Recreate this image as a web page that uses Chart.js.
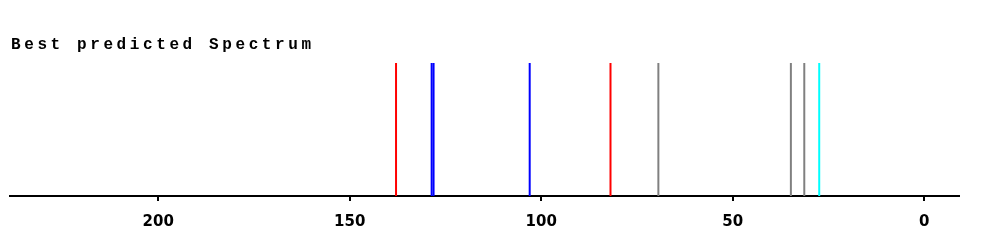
<!DOCTYPE html>
<html>
<head>
<meta charset="utf-8">
<script src="https://cdn.jsdelivr.net/npm/chart.js@4/dist/chart.umd.min.js"></script>
<style>
html,body{margin:0;padding:0;background:#fff;}
#wrap{width:993px;height:249px;}
</style>
</head>
<body>
<div id="wrap"><canvas id="c" width="993" height="249"></canvas></div>
<script>
const TITLE = "Best predicted Spectrum";
const peakShifts = [137.9, 128.6, 128.1, 103.0, 81.9, 69.4, 34.8, 31.3, 27.4];
const peakColors = ["#ff0000", "#0000ff", "#0000ff", "#0000ff", "#ff0000", "#808080", "#808080", "#808080", "#00ffff"];
const peakHeights = [1, 1, 1, 1, 1, 1, 1, 1, 1];
const xTicks = [0, 50, 100, 150, 200];
const xMin = -9.1, xMax = 238.7;

const datasets = peakShifts.map((p, i) => ({
  data: [{x: p, y: 0}, {x: p, y: peakHeights[i]}],
  borderColor: peakColors[i],
  borderWidth: 2,
  pointRadius: 0,
  fill: false,
  tension: 0
}));

const titlePlugin = {
  id: 'spacedTitle',
  afterDraw(chart) {
    const ctx = chart.ctx;
    ctx.save();
    ctx.font = "bold 16px \"Liberation Mono\", \"Courier New\", monospace";
    ctx.letterSpacing = "3.6px";
    ctx.fillStyle = "#000";
    ctx.textBaseline = "middle";
    ctx.textAlign = "left";
    ctx.fillText(TITLE, 11, 45);
    ctx.restore();
  }
};

function draw() {
  new Chart(document.getElementById('c'), {
    type: 'line',
    data: { datasets },
    options: {
      responsive: false,
      animation: false,
      layout: { padding: { left: 10, right: 34, top: 63, bottom: 6 } },
      plugins: { legend: { display: false }, tooltip: { enabled: false } },
      scales: {
        x: {
          type: 'linear',
          reverse: true,
          min: xMin,
          max: xMax,
          afterBuildTicks(scale) { scale.ticks = xTicks.map(v => ({ value: v })); },
          grid: { display: true, drawOnChartArea: false, drawTicks: true, tickLength: 5, color: '#000', lineWidth: 2 },
          border: { display: true, color: '#000', width: 2 },
          ticks: { color: '#000', padding: 12, maxRotation: 0, font: { family: 'DejaVu Sans', weight: 'bold', size: 15 } }
        },
        y: { display: false, min: 0, max: 1 }
      }
    },
    plugins: [titlePlugin]
  });
}
Promise.all([
  document.fonts.load('bold 16px "Liberation Mono"'),
  document.fonts.load('bold 15px "DejaVu Sans"')
]).then(draw, draw);
</script>
</body>
</html>
